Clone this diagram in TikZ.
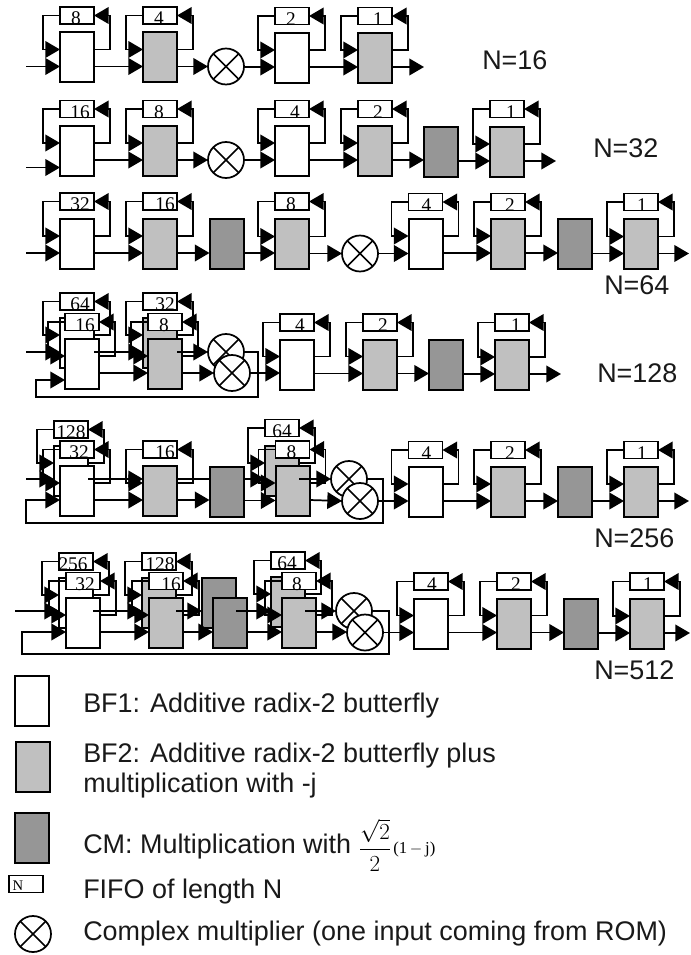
\documentclass[tikz,border=0pt]{standalone}
\usepackage{fontspec}
\setmainfont{Liberation Sans}
\newfontfamily\serifl{Liberation Serif}
\usetikzlibrary{arrows.meta}
\newdimen\pxunit \pxunit=0.75pt
\tikzset{
  bfbox/.style={draw,line width=1.5pt,minimum width=25.5pt,minimum height=37.5pt,inner sep=0pt,outer sep=0pt},
  bfone/.style={bfbox,fill=white},
  bftwo/.style={bfbox,fill=bftwofill},
  cmbox/.style={bfbox,fill=cmfill},
  fifobox/.style={draw,fill=white,line width=1.4pt,minimum width=25.5pt,minimum height=12.75pt,inner sep=0pt,outer sep=0pt,font=\fontsize{14.5}{15}\serifl},
  mulnode/.style={circle,draw,fill=white,line width=1.3pt,minimum size=27pt,inner sep=0pt,outer sep=0pt},
  wire/.style={line width=1.3pt},
  arr/.style={wire,-{Triangle[length=11pt,width=12.5pt]}},
  sanstext/.style={font=\fontsize{20.2}{24}\selectfont,inner sep=0pt,anchor=base west,text=black!90},
}
\definecolor{bftwofill}{HTML}{C0C0C0}
\definecolor{cmfill}{HTML}{969696}
% id, x, box top, fifo top, style, label, label shift
\newcommand{\bfunit}[7]{%
  \node[#5,anchor=north west] (#1) at (#2,#3) {};
  \node[fifobox,anchor=north west] (#1f) at (#2,#4) {\raisebox{-6.8pt}[0pt][0pt]{\makebox[0pt][c]{\kern#7\pxunit\kern#7\pxunit #6}}};
  \coordinate (#1i) at (#2,#3+34);
  \coordinate (#1o) at (#2+34,#3+34);
  \coordinate (#1a) at (#2,#3+17);
  \coordinate (#1b) at (#2+34,#3+17);
  \coordinate (#1c) at (#2-17,#4+8.5);
  \coordinate (#1d) at (#2+50,#4+8.5);
  \draw[arr] (#1f.west) -- (#1c) |- (#1a);
  \draw[arr] (#1b) -| (#1d) -- (#1f.east);
}
\newcommand{\cmunit}[3]{%
  \node[cmbox,anchor=north west] (#1) at (#2,#3) {};
  \coordinate (#1i) at (#2,#3+34);
  \coordinate (#1o) at (#2+34,#3+34);
}
\newcommand{\mulat}[3]{%
  \node[mulnode] (#1) at (#2,#3) {};
  \draw[line width=1.3pt] (#1.45) -- (#1.225) (#1.135) -- (#1.-45);
}
\begin{document}
\begin{tikzpicture}[x=0.75pt,y=-0.75pt]
\useasboundingbox (0,0) rectangle (690,955);
% ---- N=16
\coordinate (ain) at (26,66.5); \coordinate (aout) at (424,67);
\bfunit{a1}{60}{32.5}{7}{bfone}{8}{-1}
\bfunit{a2}{143}{32.5}{7}{bftwo}{4}{-1}
\mulat{am}{226}{66.5}
\bfunit{a3}{275}{33}{7.5}{bfone}{2}{-1}
\bfunit{a4}{358}{33}{7.5}{bftwo}{1}{3}
\draw[arr] (ain) -- (a1i);
\draw[arr] (a1o) -- (a2i);
\draw[arr] (a2o) -- (am.west);
\draw[arr] (am.east |- a3i) -- (a3i);
\draw[arr] (a3o) -- (a4i);
\draw[arr] (a4o) -- (aout);
\node[sanstext] (atxt) at (482,69.5) {N=16};
% ---- N=32
\coordinate (bin) at (26,167.5); \coordinate (bout) at (556,161);
\bfunit{b1}{60}{126}{100.5}{bfone}{16}{3}
\bfunit{b2}{143}{126}{100.5}{bftwo}{8}{-1}
\mulat{bm}{226}{160}
\bfunit{b3}{275}{126}{100.5}{bfone}{4}{3}
\bfunit{b4}{358}{126}{100.5}{bftwo}{2}{3}
\cmunit{b5}{424}{127}
\bfunit{b6}{490}{127}{100.5}{bftwo}{1}{4}
\draw[arr] (bin) -- (b1.west |- bin);
\draw[arr] (b1o) -- (b2i);
\draw[arr] (b2o) -- (bm.west);
\draw[arr] (bm.east) -- (b3i);
\draw[arr] (b3o) -- (b4.west |- b3o);
\draw[arr] (b4o) -- (b5.west |- b4o);
\draw[arr] (b5o) -- (b6i);
\draw[arr] (b6o) -- (bout);
\node[sanstext] (btxt) at (593,158) {N=32};
% ---- N=64
\coordinate (cin) at (26,253); \coordinate (cout) at (689,253.5);
\bfunit{c1}{60}{219}{193}{bfone}{32}{3}
\bfunit{c2}{143}{219}{193}{bftwo}{16}{5}
\cmunit{c3}{209.5}{219}
\bfunit{c4}{275}{219.5}{193}{bftwo}{8}{-1}
\mulat{cm}{360}{253.5}
\bfunit{c5}{408.5}{219}{193.5}{bfone}{4}{1}
\bfunit{c6}{491}{219}{193.5}{bftwo}{2}{2}
\cmunit{c7}{558}{219.5}
\bfunit{c8}{624}{219.5}{193.5}{bftwo}{1}{1}
\draw[arr] (cin) -- (c1i);
\draw[arr] (c1o) -- (c2i);
\draw[arr] (c2o) -- (c3i);
\draw[arr] (c3o) -- (c4.west |- c3o);
\draw[arr] (c4o) -- (cm.west);
\draw[arr] (cm.east) -- (c5.west |- cm.east);
\draw[arr] (c5o) -- (c6i);
\draw[arr] (c6o) -- (c7.west |- c6o);
\draw[arr] (c7o) -- (c8i);
\draw[arr] (c8o) -- (cout);
\node[sanstext] (ctxt) at (604,295) {N=64};
% ---- N=128
\coordinate (din) at (26,352); \coordinate (dout) at (561,374);
\coordinate (dr1) at (258,352); \coordinate (dr2) at (258,397); \coordinate (dr3) at (36,397); \coordinate (dr4) at (65,380);
\bfunit{d1}{60}{318}{293}{bfone}{64}{3}
\draw[arr] (din) -- (d1i);
\bfunit{d2}{65}{339}{313.5}{bfone}{16}{3}
\bfunit{d3}{143}{318}{293}{bftwo}{32}{5}
\draw[arr] (d1o) -- (d3i);
\bfunit{d4}{148}{339}{313.5}{bftwo}{8}{-1}
\draw[arr] (d2o) -- (d4i);
\mulat{dm1}{226}{352}
\draw[arr] (d3o) -- (dm1.west);
\draw[arr] (dm1.east) -- (dr1) -- (dr2) -- (dr3) |- (dr4);
\mulat{dm2}{232}{373}
\draw[arr] (d4o) -- (dm2.west);
\bfunit{d5}{280}{339.5}{314}{bfone}{4}{3}
\bfunit{d6}{363}{339.5}{314}{bftwo}{2}{3}
\cmunit{d7}{429}{340}
\bfunit{d8}{495}{340}{314}{bftwo}{1}{4}
\draw[arr] (dm2.east) -- (d5.west |- dm2.east);
\draw[arr] (d5o) -- (d6i);
\draw[arr] (d6o) -- (d7.west |- d6o);
\draw[arr] (d7o) -- (d8i);
\draw[arr] (d8o) -- (dout);
\node[sanstext] (dtxt) at (597,382) {N=128};
% ---- N=256
\coordinate (ein) at (26,479); \coordinate (eout) at (689,501);
\coordinate (er1) at (383,479); \coordinate (er2) at (383,523); \coordinate (er3) at (26,523); \coordinate (er4) at (60,500);
\bfunit{e1}{54}{446}{421}{bfone}{128}{0}
\draw[arr] (ein) -- (e1.west |- ein);
\bfunit{e2}{60}{466}{441}{bfone}{32}{2}
\bfunit{e3}{143}{466}{441}{bftwo}{16}{5}
\draw[arr] (e1.east |- ein) -- (e3.west |- ein);
\cmunit{e4}{209.5}{466.5}
\coordinate (e4m) at (e4.east |- ein);
\draw[wire] (e3.east |- ein) -- (e4.west |- ein);
\bfunit{e5}{265}{446}{419.5}{bftwo}{64}{0}
\draw[arr] (e4m) -- (262,479 -| e5.west);
\bfunit{e6}{275.5}{466}{441}{bftwo}{8}{-1}
\draw[arr] (e2o) -- (e3i);
\draw[arr] (e3o) -- (e4.west |- e3o);
\draw[arr] (e4o) -- (e6.west |- e4o);
\mulat{em1}{349}{479}
\draw[arr] (e5.east |- er1) -- (em1.west);
\draw[arr] (em1.east) -- (er1) -- (er2) -- (er3) |- (er4);
\mulat{em2}{360}{501}
\draw[arr] (e6o) -- (em2.west);
\bfunit{e7}{408.5}{467}{441.5}{bfone}{4}{1}
\bfunit{e8}{491}{467}{441.5}{bftwo}{2}{2}
\cmunit{e9}{558}{467}
\bfunit{e10}{624}{467}{441.5}{bftwo}{1}{1}
\draw[arr] (em2.east) -- (e7i);
\draw[arr] (e7o) -- (e8i);
\draw[arr] (e8o) -- (e9i);
\draw[arr] (e9o) -- (e10i);
\draw[arr] (e10o) -- (eout);
\node[sanstext] (etxt) at (594,547) {N=256};
% ---- N=512
\coordinate (fin) at (15,611); \coordinate (fout) at (690,633);
\coordinate (fr1) at (389,611); \coordinate (fr2) at (389,654); \coordinate (fr3) at (22,654); \coordinate (fr4) at (66,632);
\bfunit{f1}{59}{578}{553}{bfone}{256}{-3}
\draw[arr] (fin) -- (f1.west |- fin);
\bfunit{f2}{66}{598}{572.5}{bfone}{32}{2}
\bfunit{f3}{142}{578}{553}{bftwo}{128}{1}
\draw[arr] (f1.east |- fin) -- (f3.west |- fin);
\bfunit{f4}{149}{598}{572.5}{bftwo}{16}{5}
\draw[arr] (f2o) -- (f4i);
\cmunit{f5}{202}{578}
\draw[arr] (f3.east |- fin) -- (f5.west |- fin);
\cmunit{f6}{213}{598}
\draw[arr] (f4o) -- (f6i);
\bfunit{f7}{271}{577}{552}{bftwo}{64}{-1}
\draw[arr] (f5.east |- fin) -- (266,611 -| f7.west);
\bfunit{f8}{282}{598}{572.5}{bftwo}{8}{-2}
\draw[arr] (f6o) -- (f8i);
\mulat{fm1}{354}{611}
\draw[arr] (f7.east |- fin) -- (fm1.west);
\draw[arr] (fm1.east) -- (fr1) -- (fr2) -- (fr3) |- (fr4);
\mulat{fm2}{365}{632.5}
\draw[arr] (f8o) -- (fm2.west |- f8o);
\bfunit{f9}{414}{598.5}{573}{bfone}{4}{1}
\bfunit{f10}{497}{598.5}{573}{bftwo}{2}{2}
\cmunit{f11}{564}{599}
\bfunit{f12}{630}{599}{573}{bftwo}{1}{1}
\draw[arr] (fm2.east) -- (f9i);
\draw[arr] (f9o) -- (f10i);
\draw[arr] (f10o) -- (f11.west |- f10o);
\draw[arr] (f11o) -- (f12i);
\draw[arr] (f12o) -- (fout);
\node[sanstext] (ftxt) at (594,679) {N=512};
% ---- legend
\node[bfone,anchor=north west] (l1) at (15,676) {};
\node[bftwo,anchor=north west] (l2) at (15.5,742) {};
\node[cmbox,anchor=north west] (l3) at (15,813) {};
\node[fifobox,anchor=north west,font=\fontsize{11}{12}\serifl] (l4) at (9,875.5) {\raisebox{-4.5pt}[0pt][0pt]{\makebox[0pt][c]{\kern-16\pxunit N}}};
\mulat{l5}{33}{934}
\node[sanstext] (t1) at (83,712) {BF1: Additive radix-2 butterfly};
\node[sanstext] (t2) at (83,762) {BF2: Additive radix-2 butterfly plus};
\node[sanstext] (t2b) at (83,792.5) {multiplication with -j};
\node[sanstext] (t3) at (83,853) {CM: Multiplication with};
\node[inner sep=0pt,font=\fontsize{16}{18}\selectfont] (t3f) at (375,845) {$\displaystyle\frac{\sqrt{2}}{2}$};
\node[inner sep=0pt,anchor=west,font=\fontsize{12.5}{14}\serifl] (t3g) at (393,849) {(1\,$-$\,j)};
\node[sanstext] (t4) at (83,898) {FIFO of length N};
\node[sanstext] (t5) at (83,940) {Complex multiplier (one input coming from ROM)};
\end{tikzpicture}
\end{document}
